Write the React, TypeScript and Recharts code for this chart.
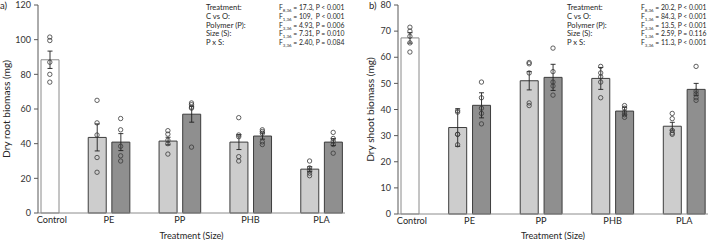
import { Bar, Cell, ComposedChart, ErrorBar, Line, XAxis, YAxis } from "recharts";

const FONT = "Lato, 'Open Sans', sans-serif";

// Treatment order: control, then each polymer at its two particle sizes
const treatments = ["Control", "PE 1", "PE 2", "PP 1", "PP 2", "PHB 1", "PHB 2", "PLA 1", "PLA 2"];
const sizeLevel = [0, 1, 2, 1, 2, 1, 2, 1, 2];

// slot -> treatment index, null leaves an empty gap between polymers
const slotLayout = [0, null, 1, 2, null, 3, 4, null, 5, 6, null, 7, 8];
// category labels sit on the first slot of each group (shifted half a slot for pairs)
const groupLabels: Record<number, { text: string; shift: boolean }> = {
  0: { text: "Control", shift: false },
  2: { text: "PE", shift: true },
  5: { text: "PP", shift: true },
  8: { text: "PHB", shift: true },
  11: { text: "PLA", shift: true },
};

const rootMean = [88.4, 43.6, 40.9, 41.5, 57.0, 40.9, 44.4, 25.3, 40.9];
const rootSe = [5.0, 7.8, 4.9, 2.2, 4.6, 4.3, 1.8, 1.4, 2.0];
const rootPoints = [
  [101.5, 99.5, 87, 80, 75.5],
  [65, 52, 45, 32, 23.5],
  [54.5, 48, 38.5, 33, 30],
  [47.5, 45.5, 42, 40, 34],
  [63.5, 62.5, 61, 60.5, 38],
  [55, 45, 44, 32.5, 30],
  [48, 47, 46, 41, 39.5],
  [30, 26, 24.5, 23, 21.5],
  [46.5, 43, 41.5, 39.5, 34.5],
];
const rootTicks = [0, 20, 40, 60, 80, 100, 120];

const shootMean = [67.4, 33.1, 41.6, 51.0, 52.3, 51.9, 39.4, 33.6, 47.7];
const shootSe = [2.0, 7.2, 4.8, 3.5, 5.0, 4.2, 1.5, 1.5, 2.3];
const shootPoints = [
  [71.5, 70, 68, 65.5, 62],
  [39.5, 39, 30.5, 30.5, 26.5],
  [50.5, 44.5, 40.5, 38.5, 34.5],
  [58, 57.5, 54, 42.5, 41.5],
  [63.5, 54.5, 50.5, 49, 45.5],
  [56.5, 54, 52.5, 50.5, 44.5],
  [41.5, 40.5, 39, 38, 37],
  [38.5, 36.5, 32, 31, 30.5],
  [56.5, 47, 46, 44.5, 43.5],
];
const shootTicks = [0, 10, 20, 30, 40, 50, 60, 70, 80];

// [effect, df, F, P]
const rootStats = [
  ["Treatment:", "8,36", "17.3", "P < 0.001"],
  ["C vs O:", "1,36", "109", "\u00a0P < 0.001"],
  ["Polymer (P):", "3,36", "4.93", "P = 0.006"],
  ["Size (S):", "1,36", "7.31", "P = 0.010"],
  ["P x S:", "3,36", "2.40", "P = 0.084"],
];
const shootStats = [
  ["Treatment:", "8,36", "20.2", "P < 0.001"],
  ["C vs O:", "1,36", "84.3", "P < 0.001"],
  ["Polymer (P):", "3,36", "13.5", "P < 0.001"],
  ["Size (S):", "1,36", "2.59", "P = 0.116"],
  ["P x S:", "3,36", "11.3", "P < 0.001"],
];

const FILLS = ["#ffffff", "#cdcdcd", "#8f8f8f"];
const OUTLINES = ["#8a8a8a", "#3d3d3d", "#3d3d3d"];
const POINT_KEYS = ["p1", "p2", "p3", "p4", "p5"];

function buildRows(mean: number[], se: number[], points: number[][]) {
  return slotLayout.map((t, i) => {
    const row: Record<string, any> = { slot: `s${i}` };
    if (t === null) return row;
    row.name = treatments[t];
    row.level = sizeLevel[t];
    row.mean = mean[t];
    row.se = se[t];
    points[t].forEach((v, k) => (row[POINT_KEYS[k]] = v));
    return row;
  });
}

function GroupTick(props: any) {
  const { x, y, payload } = props;
  const label = groupLabels[payload.index];
  if (!label) return null;
  return (
    <text
      x={x + (label.shift ? payload.offset : 2)}
      y={y}
      dy={9.5}
      textAnchor="middle"
      fontSize={9.2}
      fill="#262626"
    >
      {label.text}
    </text>
  );
}

type PanelProps = {
  tag: string;
  tagX: number;
  yLabel: string;
  yLabelOffset: number;
  yAxisWidth: number;
  marginTop: number;
  marginRight: number;
  axisHeight: number;
  ticks: number[];
  mean: number[];
  se: number[];
  points: number[][];
  stats: string[][];
  statsLeft: number;
  statsValueLeft: number;
};

function Panel(p: PanelProps) {
  const rows = buildRows(p.mean, p.se, p.points);
  const top = p.ticks[p.ticks.length - 1];
  return (
    <div style={{ position: "relative", width: 354, height: 240, fontFamily: FONT, color: "#262626" }}>
      <ComposedChart
        width={354}
        height={240}
        data={rows}
        margin={{ top: p.marginTop, right: p.marginRight, bottom: 0, left: 0 }}
        barSize={18}
      >
        <XAxis
          dataKey="slot"
          interval={0}
          tickSize={0}
          tickMargin={0}
          tickLine={false}
          axisLine={{ stroke: "#8c8c8c" }}
          height={p.axisHeight}
          tick={(props: any) => <GroupTick {...props} />}
          label={{ value: "Treatment (Size)", position: "insideBottom", offset: 1, fontSize: 9.2, fill: "#262626" }}
        />
        <YAxis
          type="number"
          domain={[0, top]}
          ticks={p.ticks}
          interval={0}
          width={p.yAxisWidth}
          tickSize={4}
          tickMargin={3}
          axisLine={{ stroke: "#595959" }}
          tickLine={{ stroke: "#595959" }}
          tick={{ fontSize: 9, fill: "#333333" }}
          label={{
            value: p.yLabel,
            angle: -90,
            position: "insideLeft",
            offset: p.yLabelOffset,
            fontSize: 10.2,
            fill: "#262626",
            style: { textAnchor: "middle" },
          }}
        />
        <Bar dataKey="mean" isAnimationActive={false} strokeWidth={1}>
          {rows.map((r) => (
            <Cell key={r.slot} fill={FILLS[r.level ?? 0]} stroke={OUTLINES[r.level ?? 0]} />
          ))}
          <ErrorBar dataKey="se" direction="y" width={2.5} stroke="#1f1f1f" strokeWidth={0.9} />
        </Bar>
        {POINT_KEYS.map((k) => (
          <Line
            key={k}
            dataKey={k}
            stroke="none"
            isAnimationActive={false}
            activeDot={false}
            legendType="none"
            dot={{ r: 2.2, fill: "none", stroke: "#3a3a3a", strokeWidth: 0.8 }}
          />
        ))}
      </ComposedChart>

      <div style={{ position: "absolute", left: p.tagX, top: 0, fontSize: 9.5, lineHeight: "11px" }}>{p.tag}</div>

      <div style={{ position: "absolute", left: 0, top: 3, width: 354, fontSize: 7.6, lineHeight: "8.8px" }}>
        {p.stats.map(([effect, df, f, prob]) => (
          <div key={effect} style={{ position: "relative", height: 8.8, whiteSpace: "nowrap" }}>
            <span style={{ position: "absolute", left: p.statsLeft }}>{effect}</span>
            <span style={{ position: "absolute", left: p.statsValueLeft, fontSize: 6.8 }}>
              F<sub style={{ fontSize: 4.4, verticalAlign: "-1.5px" }}>{df}</sub> = {f}, {prob}
            </span>
          </div>
        ))}
      </div>
    </div>
  );
}

export default function App() {
  return (
    <div
      style={{
        position: "fixed",
        left: 0,
        top: 0,
        width: 708,
        height: 240,
        overflow: "hidden",
        background: "#fff",
        display: "flex",
      }}
    >
      <style>{"html, body { margin: 0; overflow: hidden; }"}</style>
      <Panel
        tag="a)"
        tagX={0}
        yLabel="Dry root biomass (mg)"
        yLabelOffset={6}
        yAxisWidth={38}
        marginTop={5}
        marginRight={9}
        axisHeight={27}
        ticks={rootTicks}
        mean={rootMean}
        se={rootSe}
        points={rootPoints}
        stats={rootStats}
        statsLeft={206}
        statsValueLeft={279}
      />
      <Panel
        tag="b)"
        tagX={15}
        yLabel="Dry shoot biomass (mg)"
        yLabelOffset={16}
        yAxisWidth={44}
        marginTop={5}
        marginRight={0}
        axisHeight={26}
        ticks={shootTicks}
        mean={shootMean}
        se={shootSe}
        points={shootPoints}
        stats={shootStats}
        statsLeft={213}
        statsValueLeft={287}
      />
    </div>
  );
}
